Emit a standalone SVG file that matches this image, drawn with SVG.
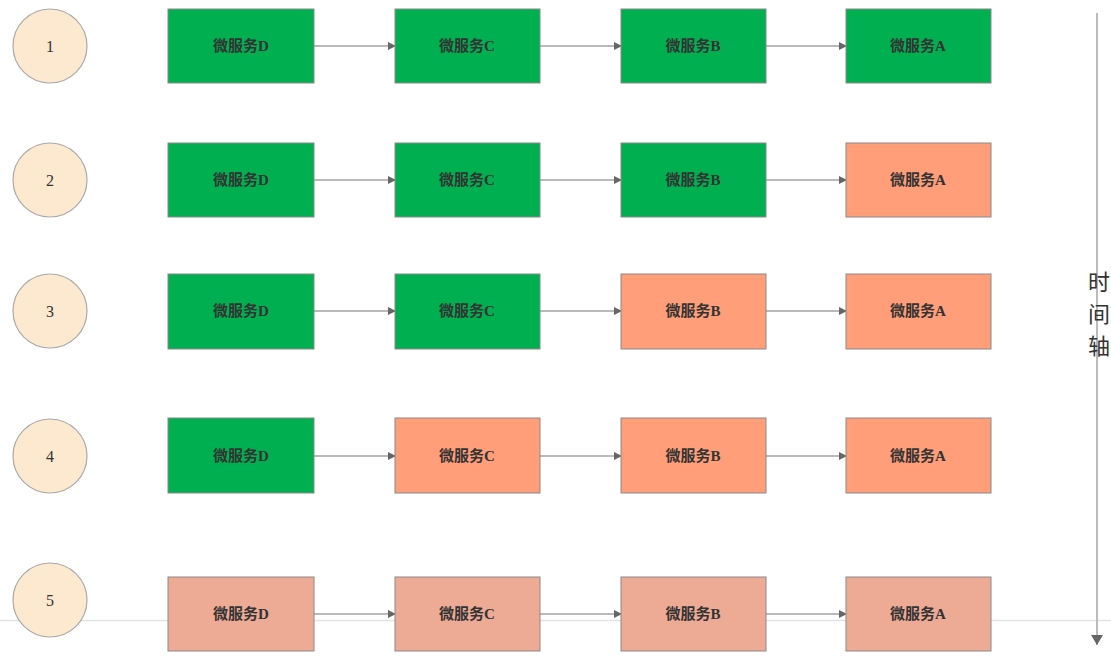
<svg xmlns="http://www.w3.org/2000/svg" width="1111" height="660" viewBox="0 0 1111 660">
<style>
.box{stroke:#8a8a8a;stroke-width:1}
.g{fill:#00B050}
.o{fill:#FF9E79}
.p{fill:#EDAA94}
.c{fill:#FDE9D0;stroke:#aaaaaa;stroke-width:1.2}
.t{font-family:"Liberation Serif","Noto Sans CJK SC",serif;font-weight:bold;font-size:15px;fill:#333;text-anchor:middle;dominant-baseline:central}
.n{font-family:"Liberation Serif",serif;font-size:16px;fill:#333;text-anchor:middle;dominant-baseline:central}
.conn{stroke:#777;stroke-width:1.2;fill:none;marker-end:url(#ah)}
</style>
<defs>
<marker id="ah" markerWidth="8" markerHeight="8" refX="7" refY="4" orient="auto" markerUnits="userSpaceOnUse">
<path d="M0,0 L8,4 L0,8 Z" fill="#666"/>
</marker>
<marker id="ah2" markerWidth="12" markerHeight="10" refX="6" refY="9" orient="auto-start-reverse" markerUnits="userSpaceOnUse">
<path d="M0,0 L12,0 L6,10 Z" fill="#666"/>
</marker>
</defs>
<rect width="1111" height="660" fill="#fff"/>
<line x1="0" y1="620.500" x2="1111" y2="620.500" stroke="#e2e2e2" stroke-width="1.5"/>
<g id="timeline">
<line x1="1097" y1="13" x2="1097" y2="645" stroke="#bbb" stroke-width="2"/>
<path d="M1091,635 L1103,635 L1097,645 Z" fill="#666"/>
<text font-family="Liberation Serif,'Noto Sans CJK SC',serif" font-size="22" fill="#333"><tspan x="1088" y="290">时</tspan><tspan x="1088" y="322">间</tspan><tspan x="1088" y="354">轴</tspan></text>
</g>
<g id="connectors">
<line class="conn" x1="314" y1="46" x2="395" y2="46"/><line class="conn" x1="540" y1="46" x2="621" y2="46"/><line class="conn" x1="766" y1="46" x2="846" y2="46"/>
<line class="conn" x1="314" y1="180" x2="395" y2="180"/><line class="conn" x1="540" y1="180" x2="621" y2="180"/><line class="conn" x1="766" y1="180" x2="846" y2="180"/>
<line class="conn" x1="314" y1="311" x2="395" y2="311"/><line class="conn" x1="540" y1="311" x2="621" y2="311"/><line class="conn" x1="766" y1="311" x2="846" y2="311"/>
<line class="conn" x1="314" y1="456" x2="395" y2="456"/><line class="conn" x1="540" y1="456" x2="621" y2="456"/><line class="conn" x1="766" y1="456" x2="846" y2="456"/>
<line class="conn" x1="314" y1="614" x2="395" y2="614"/><line class="conn" x1="540" y1="614" x2="621" y2="614"/><line class="conn" x1="766" y1="614" x2="846" y2="614"/>
</g>
<g id="step1"><circle class="c" cx="50" cy="46" r="37"/><text class="n" x="50" y="46">1</text></g>
<g id="step2"><circle class="c" cx="50" cy="180" r="37"/><text class="n" x="50" y="180">2</text></g>
<g id="step3"><circle class="c" cx="50" cy="311" r="37"/><text class="n" x="50" y="311">3</text></g>
<g id="step4"><circle class="c" cx="50" cy="456" r="37"/><text class="n" x="50" y="456">4</text></g>
<g id="step5"><circle class="c" cx="50" cy="600" r="37"/><text class="n" x="50" y="600">5</text></g>
<g id="r1d"><rect class="box g" x="168" y="9" width="146" height="74"/><text class="t" x="241" y="46">微服务D</text></g>
<g id="r1c"><rect class="box g" x="395" y="9" width="145" height="74"/><text class="t" x="467" y="46">微服务C</text></g>
<g id="r1b"><rect class="box g" x="621" y="9" width="145" height="74"/><text class="t" x="693" y="46">微服务B</text></g>
<g id="r1a"><rect class="box g" x="846" y="9" width="145" height="74"/><text class="t" x="918" y="46">微服务A</text></g>
<g id="r2d"><rect class="box g" x="168" y="143" width="146" height="74"/><text class="t" x="241" y="180">微服务D</text></g>
<g id="r2c"><rect class="box g" x="395" y="143" width="145" height="74"/><text class="t" x="467" y="180">微服务C</text></g>
<g id="r2b"><rect class="box g" x="621" y="143" width="145" height="74"/><text class="t" x="693" y="180">微服务B</text></g>
<g id="r2a"><rect class="box o" x="846" y="143" width="145" height="74"/><text class="t" x="918" y="180">微服务A</text></g>
<g id="r3d"><rect class="box g" x="168" y="274" width="146" height="75"/><text class="t" x="241" y="311">微服务D</text></g>
<g id="r3c"><rect class="box g" x="395" y="274" width="145" height="75"/><text class="t" x="467" y="311">微服务C</text></g>
<g id="r3b"><rect class="box o" x="621" y="274" width="145" height="75"/><text class="t" x="693" y="311">微服务B</text></g>
<g id="r3a"><rect class="box o" x="846" y="274" width="145" height="75"/><text class="t" x="918" y="311">微服务A</text></g>
<g id="r4d"><rect class="box g" x="168" y="418" width="146" height="75"/><text class="t" x="241" y="456">微服务D</text></g>
<g id="r4c"><rect class="box o" x="395" y="418" width="145" height="75"/><text class="t" x="467" y="456">微服务C</text></g>
<g id="r4b"><rect class="box o" x="621" y="418" width="145" height="75"/><text class="t" x="693" y="456">微服务B</text></g>
<g id="r4a"><rect class="box o" x="846" y="418" width="145" height="75"/><text class="t" x="918" y="456">微服务A</text></g>
<g id="r5d"><rect class="box p" x="168" y="577" width="146" height="74"/><text class="t" x="241" y="614">微服务D</text></g>
<g id="r5c"><rect class="box p" x="395" y="577" width="145" height="74"/><text class="t" x="467" y="614">微服务C</text></g>
<g id="r5b"><rect class="box p" x="621" y="577" width="145" height="74"/><text class="t" x="693" y="614">微服务B</text></g>
<g id="r5a"><rect class="box p" x="846" y="577" width="145" height="74"/><text class="t" x="918" y="614">微服务A</text></g>
</svg>
